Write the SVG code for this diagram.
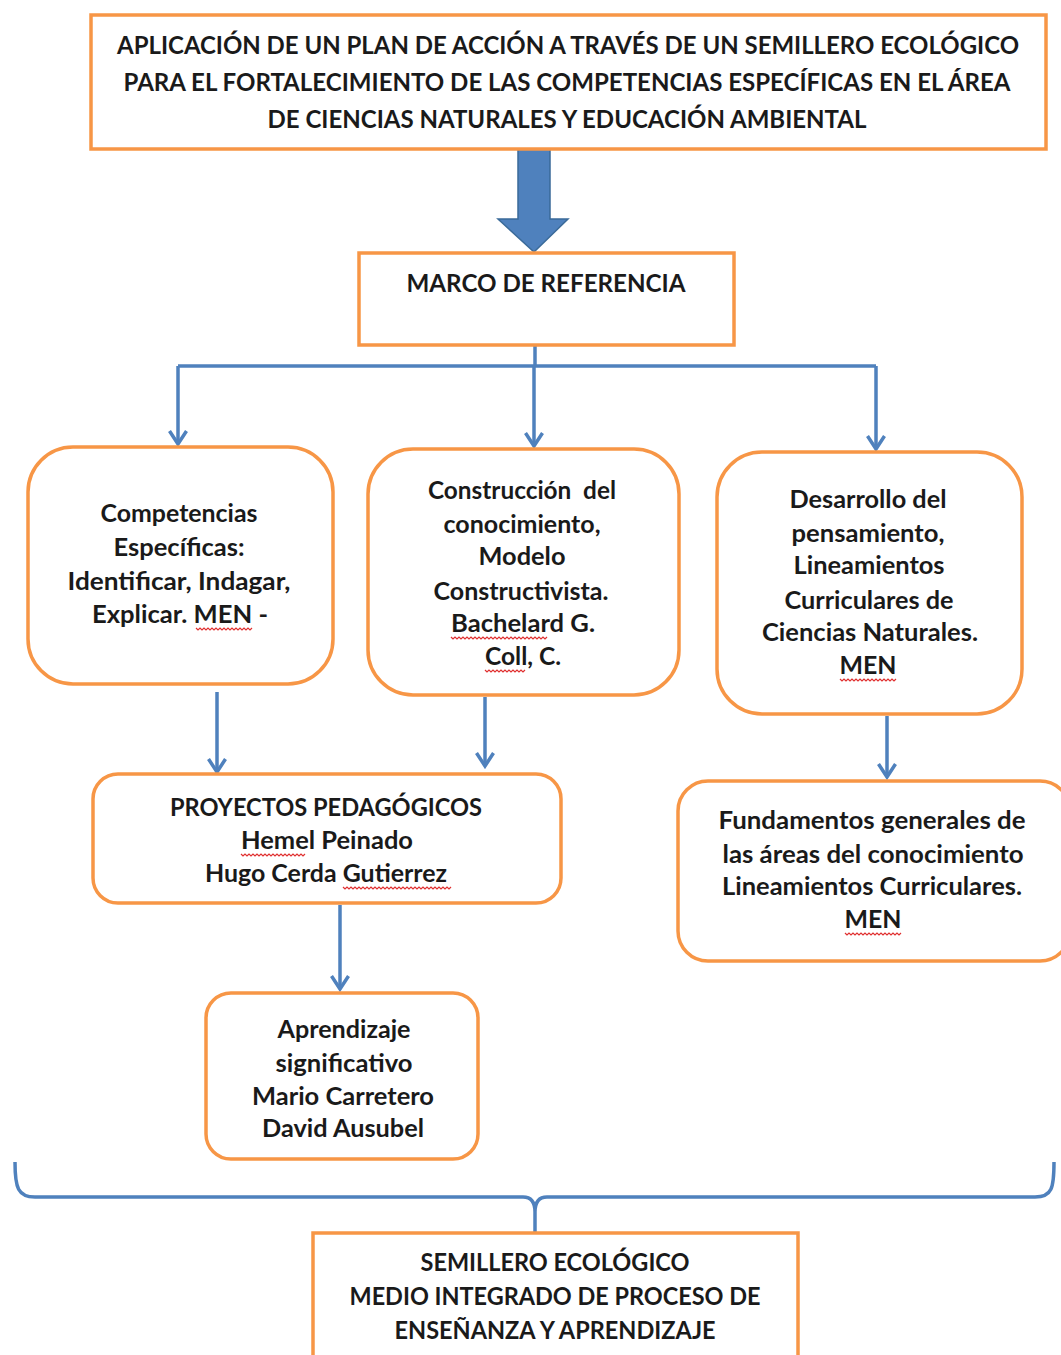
<svg xmlns="http://www.w3.org/2000/svg" width="1061" height="1355" viewBox="0 0 1061 1355">
<defs>
<style>
.box{fill:#fff;stroke:#F79646;stroke-width:3.5}
.t{font-family:Lato,"Open Sans","Liberation Sans",sans-serif;font-weight:700;font-size:25px;fill:#1a1a1a;text-anchor:middle}
.c{stroke:#4F81BD;stroke-width:3.5;fill:none}
.sq{stroke:#e03030;stroke-width:1.2;fill:none}
</style>
<marker id="ah" markerUnits="userSpaceOnUse" viewBox="0 0 20 20" markerWidth="20" markerHeight="20" refX="17" refY="10" orient="auto">
<path d="M4,1.5 L17,10 L4,18.5" stroke="#4F81BD" stroke-width="3.5" fill="none"/>
</marker>
</defs>
<rect width="1061" height="1355" fill="#fff"/>

<g id="connectors">
<path d="M518,148 L550,148 L550,219 L568,219 L534,252 L498,219 L518,219 Z" fill="#4F81BD" stroke="#3A6A99" stroke-width="1.5"/>
<path class="c" d="M535,345 L535,366"/>
<path class="c" d="M178,366 L876,366"/>
<path class="c" d="M178,366 L178,444" marker-end="url(#ah)"/>
<path class="c" d="M534,366 L534,446" marker-end="url(#ah)"/>
<path class="c" d="M876,366 L876,449" marker-end="url(#ah)"/>
<path class="c" d="M217,692 L217,772" marker-end="url(#ah)"/>
<path class="c" d="M485,697 L485,766" marker-end="url(#ah)"/>
<path class="c" d="M887,716 L887,777" marker-end="url(#ah)"/>
<path class="c" d="M340,905 L340,989" marker-end="url(#ah)"/>
<path class="c" d="M15,1162 C15,1188 18,1197 35,1197 L523,1197 Q535,1197 535,1212 Q535,1197 547,1197 L1035,1197 C1052,1197 1054,1188 1054,1162 M535,1212 L535,1234"/>
</g>

<g id="n-top">
<rect class="box" x="91" y="15" width="955" height="134"/>
<text class="t" x="568" y="54" textLength="902" lengthAdjust="spacingAndGlyphs">APLICACIÓN DE UN PLAN DE ACCIÓN A TRAVÉS DE UN SEMILLERO ECOLÓGICO</text>
<text class="t" x="567" y="91" textLength="887" lengthAdjust="spacingAndGlyphs">PARA EL FORTALECIMIENTO DE LAS COMPETENCIAS ESPECÍFICAS EN EL ÁREA</text>
<text class="t" x="567" y="128" textLength="599" lengthAdjust="spacingAndGlyphs">DE CIENCIAS NATURALES Y EDUCACIÓN AMBIENTAL</text>
</g>

<g id="n-marco">
<rect class="box" x="359" y="253" width="375" height="92"/>
<text class="t" x="546" y="292" textLength="279" lengthAdjust="spacingAndGlyphs">MARCO DE REFERENCIA</text>
</g>

<g id="n-competencias">
<rect class="box" x="28" y="447" width="305" height="237" rx="45"/>
<text class="t" x="179" y="522" textLength="157" lengthAdjust="spacingAndGlyphs">Competencias</text>
<text class="t" x="179" y="556" textLength="131" lengthAdjust="spacingAndGlyphs">Específicas:</text>
<text class="t" x="179" y="590" textLength="223" lengthAdjust="spacingAndGlyphs">Identificar, Indagar,</text>
<text class="t" x="180" y="623" textLength="176" lengthAdjust="spacingAndGlyphs">Explicar. MEN -</text>
<path class="sq" d="M196,628 l2,2 l2,-2 l2,2 l2,-2 l2,2 l2,-2 l2,2 l2,-2 l2,2 l2,-2 l2,2 l2,-2 l2,2 l2,-2 l2,2 l2,-2 l2,2 l2,-2 l2,2 l2,-2 l2,2 l2,-2 l2,2 l2,-2 l2,2 l2,-2 l2,2 l2,-2"/>
</g>

<g id="n-construccion">
<rect class="box" x="368" y="449" width="311" height="246" rx="45"/>
<text class="t" x="522" y="499" textLength="188" lengthAdjust="spacingAndGlyphs">Construcción&#160; del</text>
<text class="t" x="522" y="533" textLength="157" lengthAdjust="spacingAndGlyphs">conocimiento,</text>
<text class="t" x="522" y="565" textLength="87" lengthAdjust="spacingAndGlyphs">Modelo</text>
<text class="t" x="521" y="600" textLength="175" lengthAdjust="spacingAndGlyphs">Constructivista.</text>
<text class="t" x="523" y="632" textLength="144" lengthAdjust="spacingAndGlyphs">Bachelard G.</text>
<text class="t" x="523" y="665" textLength="76" lengthAdjust="spacingAndGlyphs">Coll, C.</text>
<path class="sq" d="M451,637 l2,2 l2,-2 l2,2 l2,-2 l2,2 l2,-2 l2,2 l2,-2 l2,2 l2,-2 l2,2 l2,-2 l2,2 l2,-2 l2,2 l2,-2 l2,2 l2,-2 l2,2 l2,-2 l2,2 l2,-2 l2,2 l2,-2 l2,2 l2,-2 l2,2 l2,-2 l2,2 l2,-2 l2,2 l2,-2 l2,2 l2,-2 l2,2 l2,-2 l2,2 l2,-2 l2,2 l2,-2 l2,2 l2,-2 l2,2 l2,-2 l2,2 l2,-2 l2,2 l2,-2"/>
<path class="sq" d="M485,670 l2,2 l2,-2 l2,2 l2,-2 l2,2 l2,-2 l2,2 l2,-2 l2,2 l2,-2 l2,2 l2,-2 l2,2 l2,-2 l2,2 l2,-2 l2,2 l2,-2 l2,2 l2,-2"/>
</g>

<g id="n-desarrollo">
<rect class="box" x="717" y="452" width="305" height="262" rx="45"/>
<text class="t" x="868" y="508" textLength="157" lengthAdjust="spacingAndGlyphs">Desarrollo del</text>
<text class="t" x="868" y="542" textLength="153" lengthAdjust="spacingAndGlyphs">pensamiento,</text>
<text class="t" x="869" y="574" textLength="151" lengthAdjust="spacingAndGlyphs">Lineamientos</text>
<text class="t" x="869" y="609" textLength="169" lengthAdjust="spacingAndGlyphs">Curriculares de</text>
<text class="t" x="870" y="641" textLength="216" lengthAdjust="spacingAndGlyphs">Ciencias Naturales.</text>
<text class="t" x="868" y="674" textLength="57" lengthAdjust="spacingAndGlyphs">MEN</text>
<path class="sq" d="M840,679 l2,2 l2,-2 l2,2 l2,-2 l2,2 l2,-2 l2,2 l2,-2 l2,2 l2,-2 l2,2 l2,-2 l2,2 l2,-2 l2,2 l2,-2 l2,2 l2,-2 l2,2 l2,-2 l2,2 l2,-2 l2,2 l2,-2 l2,2 l2,-2 l2,2 l2,-2"/>
</g>

<g id="n-proyectos">
<rect class="box" x="93" y="774" width="468" height="129" rx="25"/>
<text class="t" x="326" y="816" textLength="312" lengthAdjust="spacingAndGlyphs">PROYECTOS PEDAGÓGICOS</text>
<text class="t" x="327" y="849" textLength="172" lengthAdjust="spacingAndGlyphs">Hemel Peinado</text>
<text class="t" x="326" y="882" textLength="242" lengthAdjust="spacingAndGlyphs">Hugo Cerda Gutierrez</text>
<path class="sq" d="M241,854 l2,2 l2,-2 l2,2 l2,-2 l2,2 l2,-2 l2,2 l2,-2 l2,2 l2,-2 l2,2 l2,-2 l2,2 l2,-2 l2,2 l2,-2 l2,2 l2,-2 l2,2 l2,-2 l2,2 l2,-2 l2,2 l2,-2 l2,2 l2,-2 l2,2 l2,-2 l2,2 l2,-2 l2,2 l2,-2"/>
<path class="sq" d="M343,887 l2,2 l2,-2 l2,2 l2,-2 l2,2 l2,-2 l2,2 l2,-2 l2,2 l2,-2 l2,2 l2,-2 l2,2 l2,-2 l2,2 l2,-2 l2,2 l2,-2 l2,2 l2,-2 l2,2 l2,-2 l2,2 l2,-2 l2,2 l2,-2 l2,2 l2,-2 l2,2 l2,-2 l2,2 l2,-2 l2,2 l2,-2 l2,2 l2,-2 l2,2 l2,-2 l2,2 l2,-2 l2,2 l2,-2 l2,2 l2,-2 l2,2 l2,-2 l2,2 l2,-2 l2,2 l2,-2 l2,2 l2,-2 l2,2 l2,-2"/>
</g>

<g id="n-aprendizaje">
<rect class="box" x="206" y="993" width="272" height="166" rx="25"/>
<text class="t" x="344" y="1038" textLength="133" lengthAdjust="spacingAndGlyphs">Aprendizaje</text>
<text class="t" x="344" y="1072" textLength="137" lengthAdjust="spacingAndGlyphs">significativo</text>
<text class="t" x="343" y="1105" textLength="182" lengthAdjust="spacingAndGlyphs">Mario Carretero</text>
<text class="t" x="343" y="1137" textLength="162" lengthAdjust="spacingAndGlyphs">David Ausubel</text>
</g>

<g id="n-fundamentos">
<rect class="box" x="678" y="781" width="392" height="180" rx="30"/>
<text class="t" x="872" y="829" textLength="307" lengthAdjust="spacingAndGlyphs">Fundamentos generales de</text>
<text class="t" x="873" y="863" textLength="301" lengthAdjust="spacingAndGlyphs">las áreas del conocimiento</text>
<text class="t" x="872" y="895" textLength="300" lengthAdjust="spacingAndGlyphs">Lineamientos Curriculares.</text>
<text class="t" x="873" y="928" textLength="57" lengthAdjust="spacingAndGlyphs">MEN</text>
<path class="sq" d="M845,933 l2,2 l2,-2 l2,2 l2,-2 l2,2 l2,-2 l2,2 l2,-2 l2,2 l2,-2 l2,2 l2,-2 l2,2 l2,-2 l2,2 l2,-2 l2,2 l2,-2 l2,2 l2,-2 l2,2 l2,-2 l2,2 l2,-2 l2,2 l2,-2 l2,2 l2,-2"/>
</g>

<g id="n-semillero">
<rect class="box" x="313" y="1233" width="485" height="135"/>
<text class="t" x="555" y="1271" textLength="269" lengthAdjust="spacingAndGlyphs">SEMILLERO ECOLÓGICO</text>
<text class="t" x="555" y="1305" textLength="411" lengthAdjust="spacingAndGlyphs">MEDIO INTEGRADO DE PROCESO DE</text>
<text class="t" x="555" y="1339" textLength="321" lengthAdjust="spacingAndGlyphs">ENSEÑANZA Y APRENDIZAJE</text>
</g>
</svg>
